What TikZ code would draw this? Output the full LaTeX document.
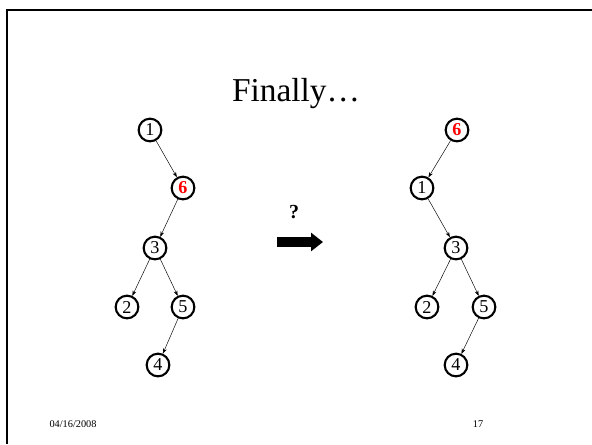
\documentclass[tikz,border=0pt]{standalone}
\usepackage{fontspec}
\setmainfont{Liberation Serif}
\usetikzlibrary{positioning,arrows.meta}
\usepackage{xcolor}

\begin{document}
\begin{tikzpicture}[
  x=0.03cm, y=-0.03cm,
  every node/.style={font=\fontsize{15.5}{17}\selectfont},
  vert/.style={draw, circle, line width=1.8pt, minimum size=0.68cm, inner sep=0pt},
  hot/.style={vert, text=red, font=\fontsize{15.5}{17}\selectfont\bfseries},
  edge/.style={thin, -{Stealth[length=4.5pt,width=3.2pt]}},
]
\useasboundingbox (0,0) rectangle (592,444);

% ── slide frame and title ──
\draw[line width=2.1pt] (7,444) -- (7,10) -- (592,10);
\node[font=\fontsize{28.5}{32}\selectfont] (title) at (296,94) {Finally\ldots};

% ── tree before ──
\node[vert] (a1) at (150,130) {1};
\node[hot]  (a6) at (183,188) {6};
\node[vert] (a3) at (155,248) {3};
\node[vert] (a2) at (127,307) {2};
\node[vert] (a5) at (183,307) {5};
\node[vert] (a4) at (158,365) {4};

\draw[edge] (a1) -- (a6);
\draw[edge] (a6) -- (a3);
\draw[edge] (a3) -- (a2); \draw[edge] (a3) -- (a5);
\draw[edge] (a5) -- (a4);

% ── rotation arrow ──
\node[font=\fontsize{17}{19}\selectfont\bfseries] (ask) at (294,212) {?};
\coordinate (from) at (277,242);
\coordinate (to)   at (323,242);
\draw[line width=0.3cm, -{Triangle[length=0.36cm,width=0.54cm]}] (from) -- (to);

% ── tree after ──
\node[hot]  (b6) at (457,130) {6};
\node[vert] (b1) at (422,188) {1};
\node[vert] (b3) at (456,248) {3};
\node[vert] (b2) at (427,307) {2};
\node[vert] (b5) at (484,307) {5};
\node[vert] (b4) at (456,365) {4};

\draw[edge] (b6) -- (b1);
\draw[edge] (b1) -- (b3);
\draw[edge] (b3) -- (b2); \draw[edge] (b3) -- (b5);
\draw[edge] (b5) -- (b4);

% ── footer ──
\node[font=\fontsize{8.8}{10}\selectfont] (date) at (73,424) {04/16/2008};
\node[font=\fontsize{8.8}{10}\selectfont] (page) at (478,424) {17};

\end{tikzpicture}
\end{document}
